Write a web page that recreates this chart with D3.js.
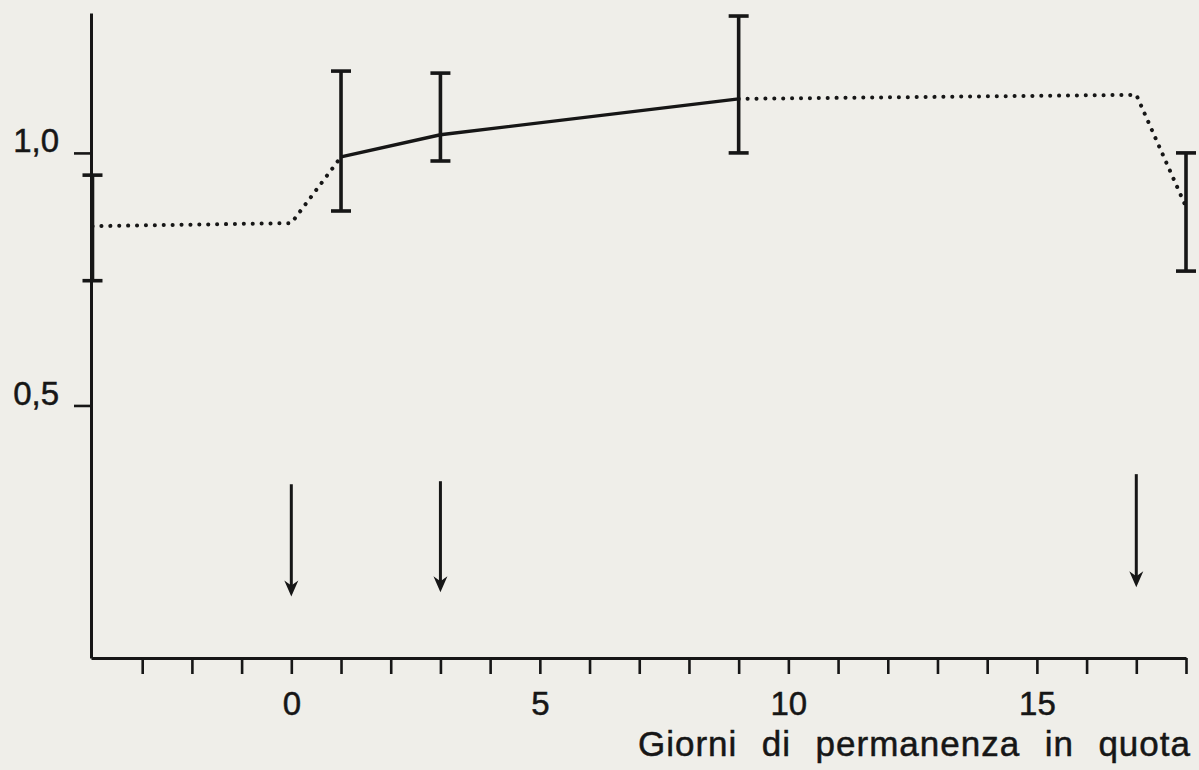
<!DOCTYPE html>
<html>
<head>
<meta charset="utf-8">
<script src="https://cdn.jsdelivr.net/npm/d3@7"></script>
<style>
  html, body { margin: 0; padding: 0; background: #efeee9; }
  svg { display: block; }
  text { font-family: "Liberation Sans", Arial, Helvetica, sans-serif; fill: #161616; stroke: #161616; stroke-width: 0.5px; }
</style>
</head>
<body>
<svg id="chart" width="1199" height="770"></svg>
<script>
// ---- data ----
const xTickValues = d3.range(-3, 19);
const xLabelValues = [0, 5, 10, 15];
const yTickValues = [0.5, 1.0];
const yTickLabels = ["0,5", "1,0"];
const xTitleWords = ["Giorni", "di", "permanenza", "in", "quota"];

// error bars: day, mean, upper, lower
const barDays  = [-4, 1, 3, 9, 18];
const barMean  = [0.855, 0.992, 1.036, 1.107, 0.893];
const barHigh  = [0.956, 1.162, 1.158, 1.271, 1.000];
const barLow   = [0.747, 0.885, 0.984, 1.000, 0.766];

// solid line (days, values)
const solidDays = [1, 3, 9];
const solidVals = [0.992, 1.036, 1.107];

// dotted segments
const dotted1Days = [-4, 0, 1];
const dotted1Vals = [0.855, 0.861, 0.992];
const dotted2Days = [9, 17, 18];
const dotted2Vals = [1.107, 1.115, 0.893];

// arrows: day, value at tail, value at tip
const arrowDays = [0, 3, 17];
const arrowFrom = [0.344, 0.350, 0.364];
const arrowTo   = [0.122, 0.130, 0.140];

// ---- layout ----
const svg = d3.select("#chart");
const x = d3.scaleLinear().domain([-4.03, 18]).range([91, 1186]);
const y = d3.scaleLinear().domain([0, 1.277]).range([658, 13]);
const ink = "#161616";

// x axis
const xAxis = d3.axisBottom(x)
  .tickValues(xTickValues)
  .tickSize(16)
  .tickSizeOuter(0)
  .tickFormat(d => xLabelValues.includes(d) ? String(d) : "");
const gx = svg.append("g").attr("transform", `translate(0,${y(0)})`).call(xAxis);
gx.select(".domain").attr("stroke", ink).attr("stroke-width", 3);
gx.selectAll(".tick line").attr("stroke", ink).attr("stroke-width", 2.6);
gx.selectAll(".tick text").attr("y", 57).attr("dy", 0)
  .style("font-size", "33px").attr("fill", ink);

// y axis
const yAxis = d3.axisLeft(y)
  .tickValues(yTickValues)
  .tickSize(17)
  .tickSizeOuter(0)
  .tickFormat((d, i) => yTickLabels[i]);
const gy = svg.append("g").attr("transform", `translate(${x(-4.03)},0)`).call(yAxis);
gy.select(".domain").attr("stroke", ink).attr("stroke-width", 3);
gy.selectAll(".tick line").attr("stroke", ink).attr("stroke-width", 2.6);
gy.selectAll(".tick text").attr("x", -32).attr("dy", -1)
  .style("font-size", "33px").attr("fill", ink);

// x title: words spread evenly between the original's start and end
const titleStart = 638, titleEnd = 1191;
const title = svg.append("text")
  .attr("y", 756)
  .style("font-size", "35px")
  .style("letter-spacing", "1px");
const spans = title.selectAll("tspan").data(xTitleWords).join("tspan")
  .text((d, i) => i < xTitleWords.length - 1 ? d + " " : d);
// measure each word without trailing space
const meas = svg.append("text").style("font-size", "35px").style("letter-spacing", "1px");
const widths = xTitleWords.map(w => { meas.text(w); return meas.node().getComputedTextLength(); });
meas.remove();
const gap = (titleEnd - titleStart - d3.sum(widths)) / (xTitleWords.length - 1);
let cx = titleStart;
const starts = widths.map(w => { const s = cx; cx += w + gap; return s; });
spans.attr("x", (d, i) => starts[i]);

// lines
const lineGen = d3.line().x(d => x(d[0])).y(d => y(d[1]));
const dotted1 = dotted1Days.map((d, i) => [d, dotted1Vals[i]]);
const dotted2 = dotted2Days.map((d, i) => [d, dotted2Vals[i]]);
const solid = solidDays.map((d, i) => [d, solidVals[i]]);

[dotted1, dotted2].forEach(pts => {
  svg.append("path")
    .attr("d", lineGen(pts))
    .attr("fill", "none")
    .attr("stroke", ink)
    .attr("stroke-width", 4)
    .attr("stroke-linecap", "round")
    .attr("stroke-dasharray", "0.1,8.8");
});
svg.append("path")
  .attr("d", lineGen(solid))
  .attr("fill", "none")
  .attr("stroke", ink)
  .attr("stroke-width", 3.4);

// error bars
const bars = barDays.map((d, i) => ({day: d, mean: barMean[i], hi: barHigh[i], lo: barLow[i]}));
const capW = 10;
const gb = svg.append("g").attr("stroke", ink).attr("stroke-width", 3.6);
gb.selectAll(".v").data(bars).join("line")
  .attr("x1", d => x(d.day)).attr("x2", d => x(d.day))
  .attr("y1", d => y(d.hi)).attr("y2", d => y(d.lo));
gb.selectAll(".ct").data(bars).join("line")
  .attr("x1", d => x(d.day) - capW).attr("x2", d => x(d.day) + capW)
  .attr("y1", d => y(d.hi)).attr("y2", d => y(d.hi));
gb.selectAll(".cb").data(bars).join("line")
  .attr("x1", d => x(d.day) - capW).attr("x2", d => x(d.day) + capW)
  .attr("y1", d => y(d.lo)).attr("y2", d => y(d.lo));

// arrows
const arrows = arrowDays.map((d, i) => ({day: d, from: arrowFrom[i], to: arrowTo[i]}));
const ga = svg.append("g");
ga.selectAll("line").data(arrows).join("line")
  .attr("x1", d => x(d.day)).attr("x2", d => x(d.day))
  .attr("y1", d => y(d.from)).attr("y2", d => y(d.to) - 10)
  .attr("stroke", ink).attr("stroke-width", 3);
ga.selectAll("path").data(arrows).join("path")
  .attr("d", d => {
    const cx = x(d.day), ty = y(d.to);
    return `M${cx - 7},${ty - 16} L${cx},${ty - 11} L${cx + 7},${ty - 16} L${cx},${ty} Z`;
  })
  .attr("fill", ink);
</script>
</body>
</html>
